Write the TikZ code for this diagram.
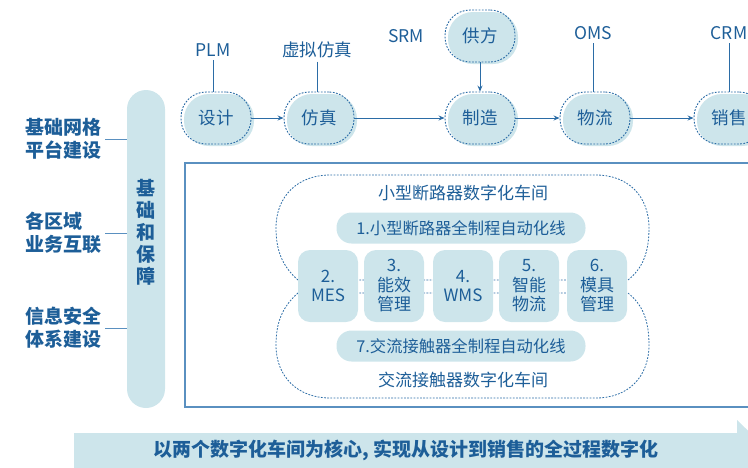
\documentclass[tikz,border=0pt]{standalone}
\usepackage{fontspec}
\setmainfont{Noto Sans CJK SC}
\usetikzlibrary{arrows.meta,shadows}
\definecolor{inkblue}{HTML}{1D5E98}
\definecolor{paleblue}{HTML}{CDE5EB}
\definecolor{dashblue}{HTML}{2B6CA6}
\definecolor{frameblue}{HTML}{5A90C0}
\def\shopOutline{
\draw[shopline] (298,280) .. controls (282,266) and (276,250) .. (276,228)
  .. controls (276,196) and (298,175) .. (330,175) -- (596,175)
  .. controls (628,175) and (649,196) .. (649,228)
  .. controls (649,252) and (643,268) .. (628,280) -- cycle;
}

\begin{document}
\begin{tikzpicture}[x=1pt,y=-1pt,
  stage/.style={draw=dashblue, dash pattern=on 1.8pt off 1.4pt, line width=0.9pt,
    rounded corners=25pt, minimum width=70pt, minimum height=52pt, inner sep=0pt,
    text=inkblue, font=\fontsize{17.5}{20}\selectfont,
    general shadow={fill=paleblue, shadow xshift=3pt, shadow yshift=-2pt}},
  lab/.style={text=inkblue, font=\fontsize{17.5}{20}\selectfont},
  side/.style={text=inkblue, font=\bfseries\fontsize{19}{23}\selectfont, align=left, anchor=west},
  tie/.style={draw=dashblue, line width=0.9pt},
  flow/.style={draw=dashblue, line width=0.9pt, -{Stealth[length=6pt,width=5pt]}},
  shopline/.style={draw=dashblue, dash pattern=on 1.8pt off 1.4pt, line width=0.8pt},
  module/.style={fill=paleblue, rounded corners=12pt, minimum width=60pt, minimum height=72pt,
    inner sep=0pt, align=center, text=inkblue, font=\fontsize{17}{19.5}\selectfont},
  linebox/.style={fill=paleblue, rounded corners=15pt, minimum width=249pt, minimum height=31pt,
    inner sep=0pt, text=inkblue, font=\fontsize{16.3}{18}\selectfont}]
\useasboundingbox (0,0) rectangle (748,467);
\clip (0,0) rectangle (748,467);

% process chain
\node[stage] (design) at (216,118) {设计};
\node[stage] (simu) at (319,118) {仿真};
\node[stage] (manuf) at (480,118) {制造};
\node[stage] (logis) at (595,118) {物流};
\node[stage] (sales) at (729,118) {销售};
\node[stage] (supply) at (480,36) {供方};

\node[lab] (plm) at (213,50) {PLM};
\node[lab] (vsim) at (317,50) {虚拟仿真};
\node[lab] (srm) at (406,36) {SRM};
\node[lab] (oms) at (593,33) {OMS};
\node[lab] (crm) at (729,33) {CRM};

\draw[tie] (plm.south) -- (plm.south |- design.north);
\draw[tie] (vsim.south) -- (vsim.south |- simu.north);
\draw[tie] (oms.south) -- (oms.south |- logis.north);
\draw[tie] (crm.south) -- (crm.south |- sales.north);
\draw[flow] (supply) -- (manuf);
\draw[flow] (design) -- (simu);
\draw[flow] (simu) -- (manuf);
\draw[flow] (manuf) -- (logis);
\draw[flow] (logis) -- (sales);

% foundation
\node[side] (grid) at (22,139) {基础网格\\平台建设};
\node[side] (region) at (22,233) {各区域\\业务互联};
\node[side] (secure) at (22,328) {信息安全\\体系建设};
\node[fill=paleblue, rounded corners=19pt, minimum width=38pt, minimum height=318pt,
  inner sep=0pt] (base) at (146,249) {};
\node[text=inkblue, font=\bfseries\fontsize{19}{22}\selectfont, align=center] (basetxt)
  at (146,232) {基\\础\\和\\保\\障};
\draw[tie, draw=frameblue] (grid.east) -- (grid.east -| base.west);
\draw[tie, draw=frameblue] (region.east) -- (region.east -| base.west);
\draw[tie, draw=frameblue] (secure.east) -- (secure.east -| base.west);

% workshops
\draw[frameblue, line width=1.2pt] (185,163) rectangle (770,407);
\shopOutline
\begin{scope}[shift={(0,573)},yscale=-1]
\shopOutline
\end{scope}
\node[lab, font=\fontsize{17}{19}\selectfont] (shopA) at (463,193) {小型断路器数字化车间};
\node[linebox] (lineA) at (461,228) {1.小型断路器全制程自动化线};
\node[module] (mes) at (328,286) {2.\\MES};
\node[module] (energy) at (394,286) {3.\\能效\\管理};
\node[module] (wms) at (463,286) {4.\\WMS};
\node[module] (smart) at (529,286) {5.\\智能\\物流};
\node[module] (mold) at (597,286) {6.\\模具\\管理};
\node[linebox] (lineB) at (461,346) {7.交流接触器全制程自动化线};
\node[lab, font=\fontsize{17}{19}\selectfont] (shopB) at (463,380) {交流接触器数字化车间};

% goal band
\fill[paleblue] (74,433) -- (737,433) -- (737,420) -- (769,451) -- (737,482) -- (737,470) -- (74,470) -- cycle;
\node[text=inkblue, font=\bfseries\fontsize{19}{22}\selectfont] (goal) at (406,450)
  {以两个数字化车间为核心, 实现从设计到销售的全过程数字化};
\end{tikzpicture}
\end{document}
